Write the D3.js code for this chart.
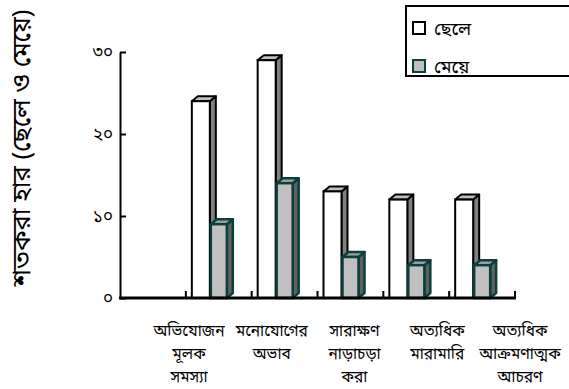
<!DOCTYPE html>
<html>
<head>
<meta charset="utf-8">
<script src="https://cdn.jsdelivr.net/npm/d3@7"></script>
<style>
  body { margin: 0; background: #fff; }
  text { font-family: "Noto Sans Bengali", "Noto Serif Bengali", "Lohit Bengali", "FreeSerif", "Noto Sans", sans-serif; fill: #000; }
</style>
</head>
<body>
<svg id="chart" width="569" height="389"></svg>
<script>
// categories (first slot is empty in the original)
const categories = ["", "c1", "c2", "c3", "c4", "c5"];
const catLabels = [
    ["অভিযোজন", "মূলক", "সমস্যা"],
    ["মনোযোগের", "অভাব"],
    ["সারাক্ষণ", "নাড়াচড়া", "করা"],
    ["অত্যধিক", "মারামারি"],
    ["অত্যধিক", "আক্রমণাত্মক", "আচরণ"]
];
const boys = [24, 29, 13, 12, 12];
const girls = [9, 14, 5, 4, 4];
const yTicks = [0, 10, 20, 30];
const yTickLabels = ["০", "১০", "২০", "৩০"];
const seriesNames = ["ছেলে", "মেয়ে"];
const yTitle = "শতকরা হার (ছেলে ও মেয়ে)";

const svg = d3.select("#chart");

let x = d3.scaleBand().domain(categories).range([120, 515]).padding(0);
let sub = d3.scaleBand().domain(["boy", "girl"]).range([6, 44]).padding(0);
let y = d3.scaleLinear().domain([0, 30]).range([298, 52]);
let xl = d3.scalePoint().domain(categories.slice(1)).range([189, 520]);

const dx = 6, dy = 5;

// bars
const barData = [];
categories.slice(1).forEach((c, i) => {
    barData.push({cat: c, key: "boy", value: boys[i]});
    barData.push({cat: c, key: "girl", value: girls[i]});
});

const styles = {
    boy: {front: "#ffffff", top: "#c0c0c0", side: "#808080", stroke: "#000000", w: 18, sw: 2},
    girl: {front: "#c0c0c0", top: "#a0a0a0", side: "#606060", stroke: "#0a3f3d", w: 16, sw: 2.5}
};

let bars = svg.append("g").selectAll("g").data(barData).enter().append("g");

bars.each(function(d) {
    let s = styles[d.key];
    let x0 = x(d.cat) + sub(d.key);
    let x1 = x0 + s.w;
    let yt = y(d.value), yb = y(0);
    let g = d3.select(this);
    // side face
    g.append("path")
        .attr("d", `M${x1},${yb} L${x1},${yt} L${x1 + dx},${yt - dy} L${x1 + dx},${yb - dy} Z`)
        .attr("fill", s.side).attr("stroke", s.stroke).attr("stroke-width", s.sw)
        .attr("stroke-linejoin", "round");
    // top face
    g.append("path")
        .attr("d", `M${x0},${yt} L${x0 + dx},${yt - dy} L${x1 + dx},${yt - dy} L${x1},${yt} Z`)
        .attr("fill", s.top).attr("stroke", s.stroke).attr("stroke-width", s.sw)
        .attr("stroke-linejoin", "round");
    // front face
    g.append("rect")
        .attr("x", x0).attr("y", yt)
        .attr("width", s.w).attr("height", yb - yt)
        .attr("fill", s.front).attr("stroke", s.stroke).attr("stroke-width", s.sw);
});

// y axis, ticks pointing inward
let yAxis = svg.append("g")
    .attr("transform", "translate(120,0)")
    .call(d3.axisLeft(y).tickValues(yTicks).tickSizeInner(-6).tickSizeOuter(0).tickPadding(7)
        .tickFormat((d, i) => yTickLabels[i]));
yAxis.select(".domain").attr("stroke", "#000").attr("stroke-width", 2);
yAxis.selectAll(".tick line").attr("stroke", "#000").attr("stroke-width", 2);
yAxis.selectAll(".tick text").attr("font-size", 17);

// x axis line and category boundary ticks
svg.append("line")
    .attr("x1", 119).attr("x2", x.range()[1] + 1)
    .attr("y1", y(0)).attr("y2", y(0))
    .attr("stroke", "#000").attr("stroke-width", 3);

svg.append("g").selectAll("line")
    .data(categories.slice(1).map(c => x(c)).concat([x.range()[1]]))
    .enter().append("line")
    .attr("x1", d => d).attr("x2", d => d)
    .attr("y1", y(0)).attr("y2", y(0) - 7)
    .attr("stroke", "#000").attr("stroke-width", 2);

// category labels
let lbl = svg.append("g").selectAll("text")
    .data(categories.slice(1))
    .enter().append("text")
    .attr("text-anchor", "middle")
    .attr("font-size", 15.5)
    .attr("x", d => xl(d))
    .attr("y", 336);
lbl.each(function(d, i) {
    d3.select(this).selectAll("tspan")
        .data(catLabels[i])
        .enter().append("tspan")
        .attr("x", xl(d))
        .attr("dy", (t, j) => j === 0 ? 0 : 23)
        .text(t => t);
});

// y title
svg.append("text")
    .attr("transform", "translate(30,148) rotate(-90)")
    .attr("text-anchor", "middle")
    .attr("font-size", 25.5)
    .text(yTitle);

// legend
let legend = svg.append("g");
legend.append("rect")
    .attr("x", 406).attr("y", 6).attr("width", 200).attr("height", 70)
    .attr("fill", "#fff").attr("stroke", "#000").attr("stroke-width", 2);

let items = legend.selectAll("g.item")
    .data(seriesNames)
    .enter().append("g")
    .attr("class", "item")
    .attr("transform", (d, i) => `translate(413,${22 + i * 38})`);
items.append("rect")
    .attr("width", 12).attr("height", 12)
    .attr("fill", (d, i) => i === 0 ? styles.boy.front : styles.girl.front)
    .attr("stroke", (d, i) => i === 0 ? styles.boy.stroke : styles.girl.stroke)
    .attr("stroke-width", 2);
items.append("text")
    .attr("x", 21).attr("y", 13)
    .attr("font-size", 18)
    .text(d => d);
</script>
</body>
</html>
